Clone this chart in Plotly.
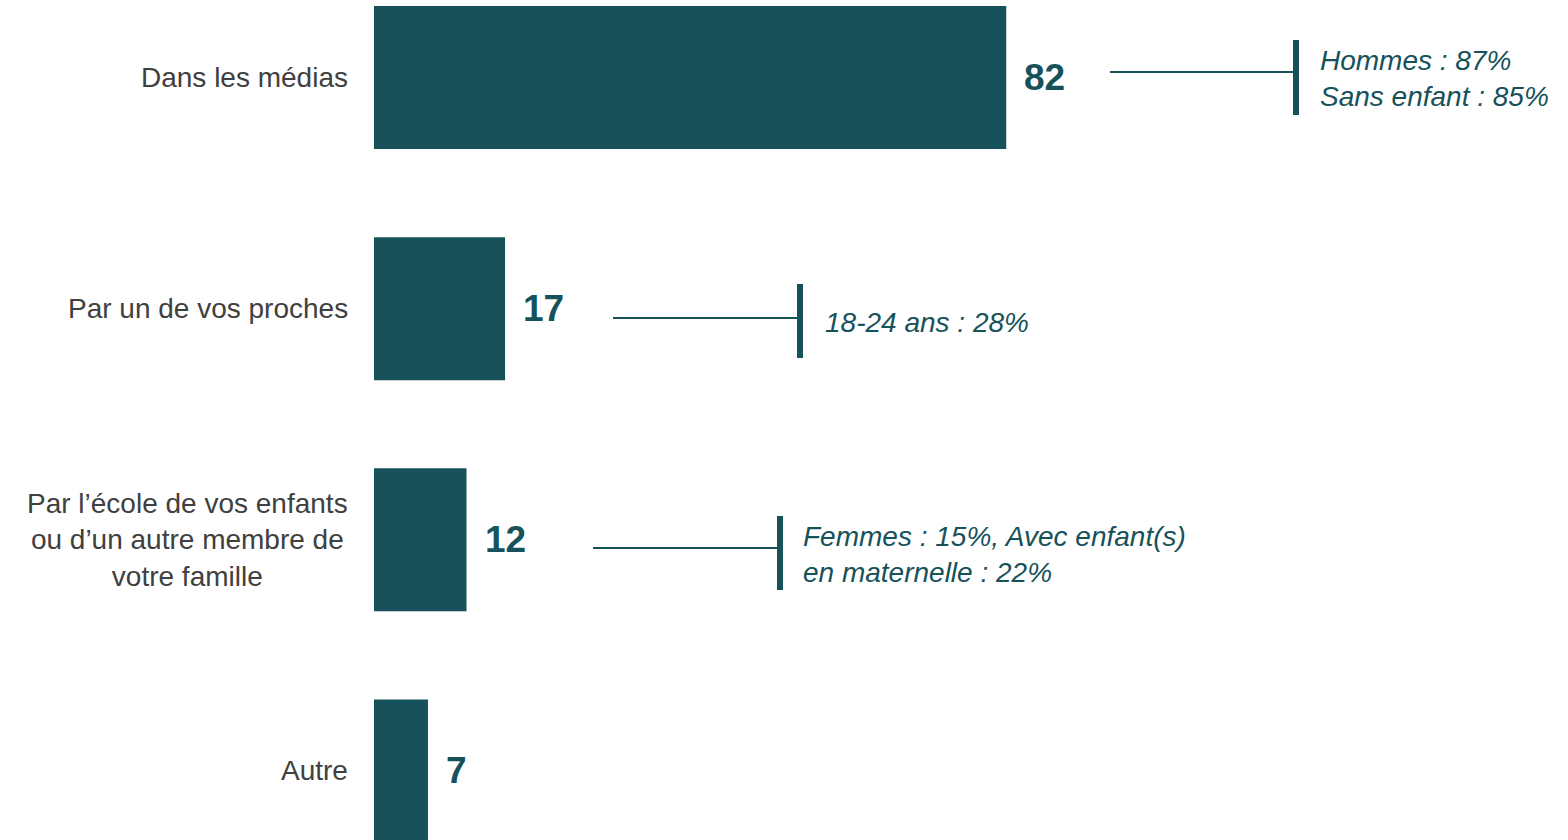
import plotly.graph_objects as go

categories = ["Dans les médias", "Par un de vos proches",
              "Par l’école de vos enfants<br>ou d’un autre membre de<br>votre famille", "Autre"]
values = [82, 17, 12, 7]
details = ["<i>Hommes : 87%<br>Sans enfant : 85%</i>", "<i>18-24 ans : 28%</i>",
           "<i>Femmes : 15%, Avec enfant(s)<br>en maternelle : 22%</i>", None]

W, H = 1568, 840
TEAL = "#17525A"
GRAY = "#404040"
FONT = "Liberation Sans, Arial, sans-serif"

ypos = list(range(len(categories)))

fig = go.Figure(go.Bar(
    x=values, y=ypos, orientation="h", width=0.619,
    marker=dict(color=TEAL, line=dict(width=0)),
    hoverinfo="skip",
))

zero_px, px_per_unit = 374, 7.71
x_min = -zero_px / px_per_unit
x_max = (W - zero_px) / px_per_unit

annotations = []
# category labels
for cat, y in zip(categories, ypos):
    annotations.append(dict(
        x=350 / W, xref="paper", y=y, yref="y", text=cat, showarrow=False,
        xanchor="right", yanchor="middle", align="center",
        font=dict(family=FONT, size=28, color=GRAY)))
# value labels
for v, y in zip(values, ypos):
    annotations.append(dict(
        x=v, xref="x", y=y, yref="y", text=f"<b>{v}</b>", showarrow=False,
        xanchor="left", yanchor="middle", xshift=16,
        font=dict(family=FONT, size=37, color=TEAL)))

# detail callouts (pixel layout)
callouts = [
    # (hline x0, hline x1, hline y, vline y0, vline y1, text x, text y)
    (1110, 1293, 72, 40, 115, 1318, 78),
    (613, 797, 318, 284, 358, 823, 322),
    (593, 777, 548, 516, 590, 801, 554),
]
shapes = []
for (hx0, hx1, hy, vy0, vy1, tx, ty), txt in zip(callouts, details):
    shapes.append(dict(type="line", xref="paper", yref="paper",
                       x0=hx0 / W, x1=hx1 / W, y0=1 - hy / H, y1=1 - hy / H,
                       line=dict(color=TEAL, width=2)))
    shapes.append(dict(type="line", xref="paper", yref="paper",
                       x0=(hx1 + 3) / W, x1=(hx1 + 3) / W, y0=1 - vy0 / H, y1=1 - vy1 / H,
                       line=dict(color=TEAL, width=6)))
    annotations.append(dict(
        x=tx / W, xref="paper", y=1 - ty / H, yref="paper", text=txt, showarrow=False,
        xanchor="left", yanchor="middle", align="left",
        font=dict(family=FONT, size=28, color=TEAL)))

fig.update_layout(
    width=W, height=H,
    margin=dict(l=0, r=0, t=0, b=0),
    paper_bgcolor="white", plot_bgcolor="white",
    showlegend=False,
    xaxis=dict(range=[x_min, x_max], visible=False, fixedrange=True),
    yaxis=dict(range=[3.2987, -0.3355], visible=False, fixedrange=True),
    annotations=annotations,
    shapes=shapes,
)

fig.write_html("out.html", config={"displayModeBar": False},
               post_script="document.body.style.margin='0';document.body.style.overflow='hidden';")
